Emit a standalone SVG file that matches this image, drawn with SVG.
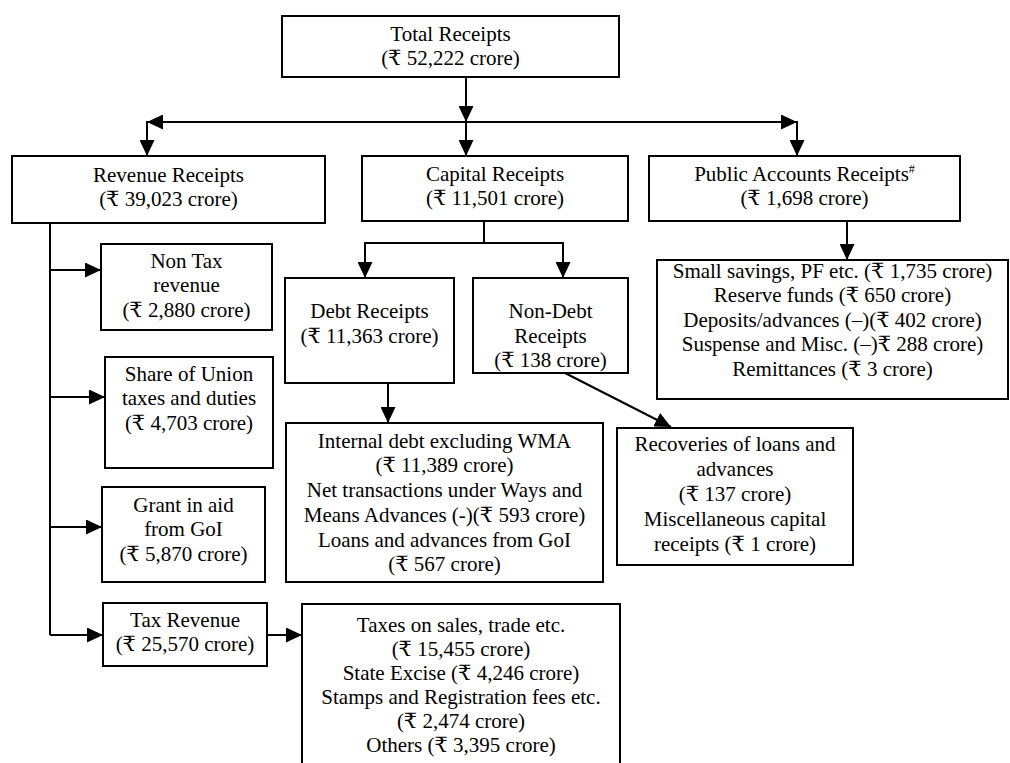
<svg xmlns="http://www.w3.org/2000/svg" width="1010" height="763" viewBox="0 0 1010 763" font-family="'Liberation Serif', 'Times New Roman', Times, 'DejaVu Serif', serif">
<style>
.box{fill:#fff;stroke:#000;stroke-width:2}
.ln{fill:none;stroke:#000;stroke-width:2}
.ar{fill:none;stroke:#000;stroke-width:2;marker-end:url(#ah)}
text{font-family:'Liberation Serif','Times New Roman',Times,'DejaVu Serif',serif;font-size:21px;fill:#000;text-anchor:middle}
</style>
<defs>
<marker id="ah" markerUnits="userSpaceOnUse" markerWidth="16" markerHeight="15" refX="16" refY="7.5" orient="auto"><path d="M0,0 L16,7.5 L0,15 Z" fill="#000"/></marker>
</defs>
<rect width="1010" height="763" fill="#fff"/>
<g id="connectors">
<path class="ar" d="M466,77 V122"/>
<path class="ar" d="M466,122 V156"/>
<path class="ar" d="M466,122 H147"/>
<path class="ar" d="M147,121 V156"/>
<path class="ar" d="M466,122 H797"/>
<path class="ar" d="M797,121 V156"/>
<path class="ar" d="M847,221 V260"/>
<path class="ln" d="M50,223 V635"/>
<path class="ar" d="M50,270 H101"/>
<path class="ar" d="M50,397 H105"/>
<path class="ar" d="M50,527 H102"/>
<path class="ar" d="M50,635 H103"/>
<path class="ar" d="M267,635 H302"/>
<path class="ln" d="M484,221 V243 M365,243 H563"/>
<path class="ar" d="M365,242 V278"/>
<path class="ar" d="M563,242 V278"/>
<path class="ar" d="M388,383 V423"/>
<path class="ar" d="M565,373 L671,427"/>
</g>
<g id="total"><rect class="box" x="282" y="16" width="337" height="61"/><text x="450.5" y="41">Total Receipts</text><text x="450.5" y="65">(₹ 52,222 crore)</text></g>
<g id="revenue"><rect class="box" x="12" y="156" width="313" height="67"/><text x="168.5" y="182">Revenue Receipts</text><text x="168.5" y="206">(₹ 39,023 crore)</text></g>
<g id="capital"><rect class="box" x="362" y="156" width="266" height="65"/><text x="495" y="181">Capital Receipts</text><text x="495" y="205">(₹ 11,501 crore)</text></g>
<g id="public"><rect class="box" x="649" y="156" width="311" height="65"/><text x="804.5" y="181">Public Accounts Receipts<tspan font-size="12" dy="-8">#</tspan></text><text x="804.5" y="205">(₹ 1,698 crore)</text></g>
<g id="nontax"><rect class="box" x="101" y="244" width="171" height="86"/><text x="186.5" y="268">Non Tax</text><text x="186.5" y="292">revenue</text><text x="186.5" y="317">(₹ 2,880 crore)</text></g>
<g id="share"><rect class="box" x="105" y="357" width="168" height="111"/><text x="189" y="381">Share of Union</text><text x="189" y="405">taxes and duties</text><text x="189" y="430">(₹ 4,703 crore)</text></g>
<g id="grant"><rect class="box" x="102" y="487" width="163" height="95"/><text x="183.5" y="512">Grant in aid</text><text x="183.5" y="536">from GoI</text><text x="183.5" y="561">(₹ 5,870 crore)</text></g>
<g id="taxrev"><rect class="box" x="103" y="603" width="164" height="63"/><text x="185" y="627">Tax Revenue</text><text x="185" y="651">(₹ 25,570 crore)</text></g>
<g id="debt"><rect class="box" x="285" y="278" width="169" height="105"/><text x="369.5" y="318">Debt Receipts</text><text x="369.5" y="343">(₹ 11,363 crore)</text></g>
<g id="nondebt"><rect class="box" x="473" y="278" width="155" height="95"/><text x="550.5" y="318">Non-Debt</text><text x="550.5" y="343">Receipts</text><text x="550.5" y="367">(₹ 138 crore)</text></g>
<g id="internal"><rect class="box" x="286" y="423" width="317" height="159"/><text x="444.5" y="448">Internal debt excluding WMA</text><text x="444.5" y="472">(₹ 11,389 crore)</text><text x="444.5" y="497">Net transactions under Ways and</text><text x="444.5" y="522">Means Advances (-)(₹ 593 crore)</text><text x="444.5" y="547">Loans and advances from GoI</text><text x="444.5" y="571">(₹ 567 crore)</text></g>
<g id="recoveries"><rect class="box" x="617" y="428" width="236" height="137"/><text x="735" y="451">Recoveries of loans and</text><text x="735" y="476">advances</text><text x="735" y="501">(₹ 137 crore)</text><text x="735" y="526">Miscellaneous capital</text><text x="735" y="551">receipts (₹ 1 crore)</text></g>
<g id="publicsub"><rect class="box" x="657" y="260" width="351" height="139"/><text x="832.5" y="278">Small savings, PF etc. (₹ 1,735 crore)</text><text x="832.5" y="302">Reserve funds (₹ 650 crore)</text><text x="832.5" y="327">Deposits/advances (–)(₹ 402 crore)</text><text x="832.5" y="351">Suspense and Misc. (–)₹ 288 crore)</text><text x="832.5" y="376">Remittances (₹ 3 crore)</text></g>
<g id="taxsub"><rect class="box" x="302" y="604" width="318" height="170"/><text x="461" y="632">Taxes on sales, trade etc.</text><text x="461" y="656">(₹ 15,455 crore)</text><text x="461" y="680">State Excise (₹ 4,246 crore)</text><text x="461" y="704">Stamps and Registration fees etc.</text><text x="461" y="728">(₹ 2,474 crore)</text><text x="461" y="752">Others (₹ 3,395 crore)</text></g>
</svg>
